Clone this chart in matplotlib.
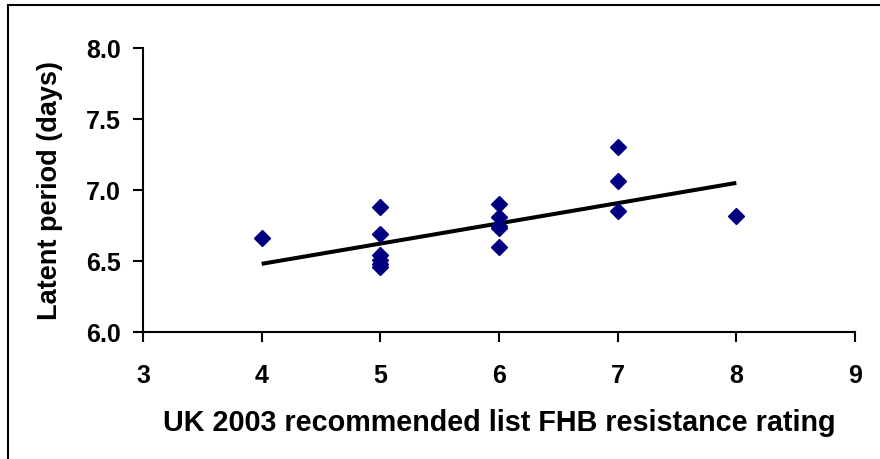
import numpy as np
import matplotlib.pyplot as plt
from matplotlib.patches import Rectangle

plt.rcParams['font.family'] = ['Liberation Sans', 'DejaVu Sans']
plt.rcParams['font.weight'] = 'bold'

# resistance rating vs latent period
rating = [4, 5, 5, 5, 5, 5, 5, 6, 6, 6, 6, 6, 7, 7, 7, 8]
latent = [6.66, 6.88, 6.69, 6.54, 6.51, 6.48, 6.46,
          6.90, 6.81, 6.75, 6.73, 6.60, 7.30, 7.06, 6.85, 6.82]

# linear trend line
trend_x = [4, 8]
trend_y = [6.48, 7.05]

fig = plt.figure(figsize=(8.8, 4.6), dpi=100)
fig.patches.append(Rectangle((8 / 880, -0.1), 1.2, (460 - 6) / 460 + 0.1,
                             transform=fig.transFigure, fill=False,
                             edgecolor='black', linewidth=1.5))
ax = fig.add_axes([143 / 880, (460 - 333) / 460, (855 - 143) / 880, (333 - 49) / 460])

ax.plot(trend_x, trend_y, color='black', lw=2.9, solid_capstyle='butt')
ax.plot(rating, latent, 'D', color='#000080', ms=8.5, ls='none')

ax.set_xlim(3, 9)
ax.set_ylim(6.0, 8.0)
ax.set_xticks(np.arange(3, 10, 1))
ax.set_yticks(np.arange(6.0, 8.01, 0.5))
ax.set_yticklabels(['%.1f' % v for v in np.arange(6.0, 8.01, 0.5)])
for s in ['top', 'right']:
    ax.spines[s].set_visible(False)
for s in ['left', 'bottom']:
    ax.spines[s].set_linewidth(1.5)
ax.tick_params(direction='out', length=7, width=1.5, labelsize=18)
ax.tick_params(axis='y', pad=9)
ax.tick_params(axis='x', pad=15)

ax.set_xlabel('UK 2003 recommended list FHB resistance rating',
              fontsize=20.7, fontweight='bold')
ax.set_ylabel('Latent period (days)', fontsize=19.5, fontweight='bold')
ax.xaxis.set_label_coords(0.5, -0.268)
ax.yaxis.set_label_coords(-0.113, 0.5)

fig.savefig('out.png', dpi=100)
